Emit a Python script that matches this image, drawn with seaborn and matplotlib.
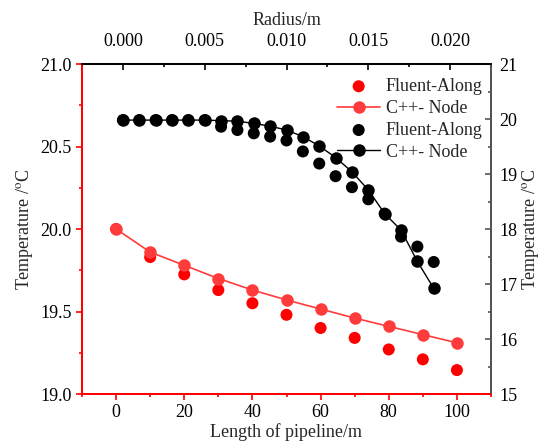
import matplotlib
matplotlib.use("Agg")
import matplotlib.pyplot as plt
import seaborn as sns
import numpy as np
import pandas as pd
from matplotlib.ticker import MultipleLocator

sns.set_style("white")
plt.rcParams['font.family'] = ['Liberation Serif', 'DejaVu Serif']
plt.rcParams['mathtext.fontset'] = 'stix'

# Red series: along pipeline (bottom x, left y)
length_m = [0, 10, 20, 30, 40, 50, 60, 70, 80, 90, 100]
red_fluent = [20.00, 19.83, 19.725, 19.63, 19.55, 19.48, 19.40, 19.34, 19.27, 19.21, 19.145]
red_node = [20.00, 19.86, 19.78, 19.70, 19.63, 19.57, 19.515, 19.46, 19.41, 19.36, 19.31]

# Black series: along radius (top x, right y)
radius_m = [0.000, 0.001, 0.002, 0.003, 0.004, 0.005, 0.006, 0.007, 0.008, 0.009,
            0.010, 0.011, 0.012, 0.013, 0.014, 0.015, 0.016, 0.017, 0.018, 0.019]
black_fluent = [19.98, 19.98, 19.98, 19.98, 19.98, 19.98, 19.86, 19.80, 19.74, 19.68,
                19.61, 19.41, 19.19, 18.96, 18.76, 18.54, 18.28, 17.86, 17.68, 17.40]
black_node = [19.98, 19.98, 19.98, 19.98, 19.98, 19.98, 19.97, 19.96, 19.92, 19.87,
              19.80, 19.68, 19.51, 19.30, 19.04, 18.71, 18.28, 17.98, 17.41, 16.92]

legend_labels = ["Fluent-Along", "C++- Node", "Fluent-Along", "C++- Node"]

RED = "#ff0000"
RED2 = "#ff3b3b"
GRAY = "#555555"
FS = 13

fig = plt.figure(figsize=(5.41, 4.44), dpi=100)
ax = fig.add_axes([82/541, 1-394/444, (491-82)/541, (394-64)/444])
ax2 = ax.twinx()
ax3 = ax2.twiny()

sns.scatterplot(x=length_m, y=red_fluent, ax=ax, color=RED, s=75, edgecolor='none',
                label=legend_labels[0], zorder=3)
sns.lineplot(x=length_m, y=red_node, ax=ax, color=RED2, marker='o', markersize=9,
             markeredgecolor='none', linewidth=1.2, label=legend_labels[1], zorder=4)

sns.scatterplot(x=radius_m, y=black_fluent, ax=ax3, color='black', s=75, edgecolor='none',
                label=legend_labels[2], zorder=3)
sns.lineplot(x=radius_m, y=black_node, ax=ax3, color='black', marker='o', markersize=9,
             markeredgecolor='none', linewidth=1.0, label=legend_labels[3], zorder=4)

for a in (ax, ax3):
    if a.get_legend():
        a.get_legend().remove()

ax.set_xlim(-10, 110)
ax.set_ylim(19.0, 21.0)
ax2.set_ylim(15, 21)
ax3.set_xlim(-0.0025, 0.0225)

ax.xaxis.set_major_locator(MultipleLocator(20))
ax.xaxis.set_minor_locator(MultipleLocator(10))
ax.yaxis.set_major_locator(MultipleLocator(0.5))
ax.yaxis.set_minor_locator(MultipleLocator(0.25))
ax.yaxis.set_major_formatter(matplotlib.ticker.FormatStrFormatter('%.1f'))
ax2.yaxis.set_major_locator(MultipleLocator(1))
ax2.yaxis.set_minor_locator(MultipleLocator(0.5))
ax3.xaxis.set_major_locator(MultipleLocator(0.005))
ax3.xaxis.set_minor_locator(MultipleLocator(0.0025))
ax3.xaxis.set_major_formatter(matplotlib.ticker.FormatStrFormatter('%.3f'))

# spines
for a in (ax, ax2, ax3):
    for s in a.spines.values():
        s.set_linewidth(1.2)
    a.spines['left'].set_color(RED)
    a.spines['bottom'].set_color(RED)
    a.spines['right'].set_color(GRAY)
    a.spines['top'].set_color('black')

ax.tick_params(axis='x', which='both', direction='out', colors=RED, labelcolor='black',
               labelsize=FS, bottom=True, top=False, pad=3)
ax.tick_params(axis='y', which='both', direction='out', colors=RED, labelcolor='black',
               labelsize=FS, left=True, right=False, pad=3)
ax.tick_params(which='major', length=4.5, width=1.2)
ax.tick_params(which='minor', length=2.5, width=1.2)
ax2.tick_params(axis='y', which='both', direction='in', colors=GRAY, labelcolor='black',
                labelsize=FS, right=True, left=False, pad=6)
ax2.tick_params(which='major', length=4.5, width=1.2)
ax2.tick_params(which='minor', length=2.5, width=1.2)
ax3.tick_params(axis='x', which='both', direction='in', colors='black', labelcolor='black',
                labelsize=FS, top=True, bottom=False, pad=10)
ax3.tick_params(which='major', length=4.5, width=1.2)
ax3.tick_params(which='minor', length=2.5, width=1.2)

ax.set_xlabel("Length of pipeline/m", fontsize=FS, labelpad=1)
ax.set_ylabel("Temperature /$\\mathrm{^o}$C", fontsize=FS, labelpad=4)
ax2.set_ylabel("Temperature /$\\mathrm{^o}$C", fontsize=FS, labelpad=1.5)
ax3.set_xlabel("Radius/m", fontsize=FS, labelpad=6)

h1, l1 = ax.get_legend_handles_labels()
h3, l3 = ax3.get_legend_handles_labels()
leg = ax3.legend(h1 + h3, l1 + l3, loc='upper left',
                 bbox_to_anchor=(337/541, 1-78/444), bbox_transform=fig.transFigure,
                 frameon=False, fontsize=FS, handlelength=2.4, handletextpad=0.3,
                 labelspacing=0.27, borderpad=0, borderaxespad=0)

fig.savefig("out.png", dpi=100)
